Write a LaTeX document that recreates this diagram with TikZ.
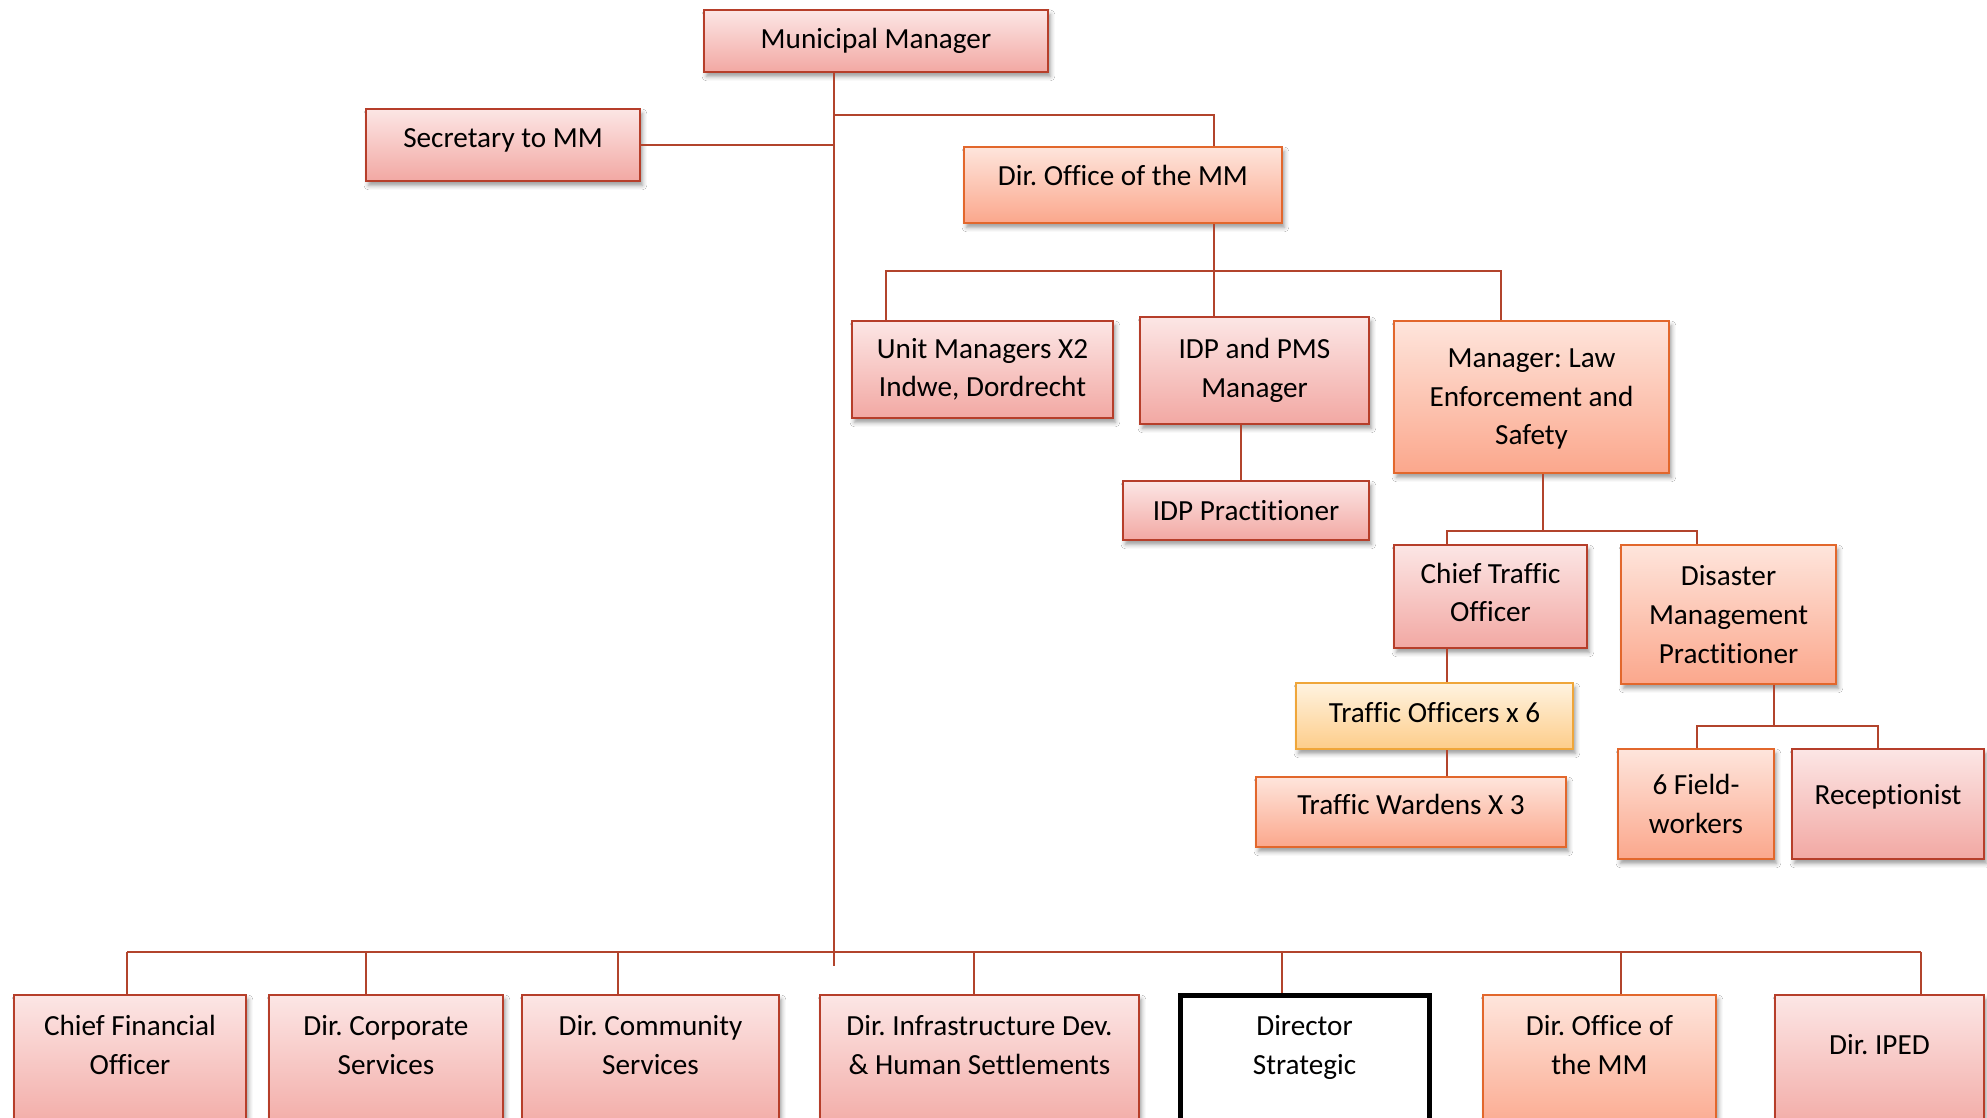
\documentclass[tikz,border=0pt]{standalone}
\usepackage{fontspec}
\setmainfont{Carlito}[Ligatures=NoCommon]
\frenchspacing
\usetikzlibrary{fit,shadows.blur}

\definecolor{pinkTop}{HTML}{FCE6E5}
\definecolor{pinkBot}{HTML}{F2A8A3}
\definecolor{pinkLine}{HTML}{B63E2A}
\definecolor{orTop}{HTML}{FEE5DC}
\definecolor{orBot}{HTML}{FBA78C}
\definecolor{orLine}{HTML}{E2672C}
\definecolor{ylTop}{HTML}{FFF3E0}
\definecolor{ylBot}{HTML}{FDCD8A}
\definecolor{ylLine}{HTML}{EFA63A}
\definecolor{linkCol}{HTML}{B2442C}

\tikzset{
  orgbox/.style={rectangle, inner sep=0pt, line width=1.1pt,
    blur shadow={shadow xshift=1.2pt, shadow yshift=-2.2pt,
      shadow blur radius=2.2pt, shadow opacity=40}},
  pinkbox/.style={orgbox, draw=pinkLine, top color=pinkTop, bottom color=pinkBot},
  orangebox/.style={orgbox, draw=orLine, top color=orTop, bottom color=orBot},
  yellowbox/.style={orgbox, draw=ylLine, top color=ylTop, bottom color=ylBot},
  plainbox/.style={rectangle, inner sep=0pt, line width=2.5pt, draw=black, fill=white},
  boxtext/.style={align=center, inner sep=0pt, font=\fontsize{14.6}{19.3}\selectfont},
  link/.style={draw=linkCol, line width=1pt}
}

\begin{document}
\begin{tikzpicture}[x=0.5pt, y=-0.5pt]
\useasboundingbox[fill=white] (0,0) rectangle (1987,1118);

% reference lines of the chart
\coordinate (spine) at (834,0);
\coordinate (topbar) at (0,115);
\coordinate (j1) at (1214,0);
\coordinate (lawx) at (1543,0);
\coordinate (lawbar) at (0,531);
\coordinate (trafx) at (1447,0);
\coordinate (disx) at (1774,0);
\coordinate (disbar) at (0,726);
\coordinate (spineEnd) at (834,966);
\coordinate (row) at (0,1045);

% upper part: boxes
\node[pinkbox, fit={(704,10) (1048,72)}] (mm) {};
\node[pinkbox, fit={(366,109) (640,181)}] (sec) {};
\node[orangebox, fit={(964,147) (1282,223)}] (dom) {};
\node[pinkbox, fit={(852,321) (1113,418)}] (unit) {};
\node[pinkbox, fit={(1140,317) (1369,424)}] (idp) {};
\node[orangebox, fit={(1394,321) (1669,473)}] (law) {};
\node[pinkbox, fit={(1123,481) (1369,540)}] (idpp) {};
\node[pinkbox, fit={(1394,545) (1587,648)}] (cto) {};
\node[orangebox, fit={(1621,545) (1836,684)}] (dmp) {};
\node[yellowbox, fit={(1296,683) (1573,749)}] (tofc) {};
\node[orangebox, fit={(1256,777) (1566,847)}] (tw) {};
\node[orangebox, fit={(1618,749) (1774,859)}] (fw) {};
\node[pinkbox, fit={(1792,749) (1984,859)}] (rec) {};

% upper part: texts
\node[boxtext] (mm-t) at (mm.center) {Municipal Manager};
\node[boxtext, yshift=2.5pt] (sec-t) at (sec.center) {Secretary to MM};
\node[boxtext, yshift=5pt] (dom-t) at (dom.center) {Dir. Office of the MM};
\node[boxtext] (unit-t) at (unit.center) {Unit Managers X2\\Indwe, Dordrecht};
\node[boxtext] (idp-t) at (idp.center) {IDP and PMS\\Manager};
\node[boxtext, yshift=-1pt] (law-t) at (law.center) {Manager: Law\\Enforcement and\\Safety};
\node[boxtext] (idpp-t) at (idpp.center) {IDP Pract\kern0pt it\kern0pt ioner};
\node[boxtext, yshift=2pt] (cto-t) at (cto.center) {Chief Traffic\\Officer};
\node[boxtext] (dmp-t) at (dmp.center) {Disaster\\Management\\Pract\kern0pt it\kern0pt ioner};
\node[boxtext, yshift=1.5pt] (tofc-t) at (tofc.center) {Traffic Officers x 6};
\node[boxtext, yshift=4pt] (tw-t) at (tw.center) {Traffic Wardens X 3};
\node[boxtext] (fw-t) at (fw.center) {6 Field-\\workers};
\node[boxtext] (rec-t) at (rec.center |- 0,797) {Receptionist};

% lower row of directors
\node[pinkbox, fit={(14,995) (246,1135)}] (cfo) {};
\node[pinkbox, fit={(269,995) (503,1135)}] (corp) {};
\node[pinkbox, fit={(522,995) (779,1135)}] (comm) {};
\node[pinkbox, fit={(820,995) (1139,1135)}] (infra) {};
\node[plainbox, fit={(1180,995) (1429,1135)}] (strat) {};
\node[orangebox, fit={(1483,995) (1716,1135)}] (dom2) {};
\node[pinkbox, fit={(1775,995) (1984,1135)}] (iped) {};

\node[boxtext] (cfo-t) at (cfo.north |- row) {Chief Financial\\Officer};
\node[boxtext] (corp-t) at (corp.north |- row) {Dir. Corporate\\Services};
\node[boxtext] (comm-t) at (comm.north |- row) {Dir. Community\\Services};
\node[boxtext] (infra-t) at (infra.north |- row) {Dir. Infrastructure Dev.\\\& Human Settlements};
\node[boxtext, yshift=-1.2pt] (strat-t) at (strat.north |- row) {Director\\Strategic};
\node[boxtext] (dom2-t) at (dom2.north |- row) {Dir. Office of\\the MM};
\node[boxtext] (iped-t) at (iped.north |- row) {Dir. IPED};

% connectors
\draw[link] (mm.south -| spine) -- (spineEnd);
\draw[link] (sec.east) -- (sec.east -| spine);
\draw[link] (spine |- topbar) -- (j1 |- topbar) -- (dom.north -| j1);
\draw[link] (dom.south -| j1) -- (idp.north -| j1);
\draw[link] (unit.north -| 886,0) -- (886,271) -- (1501,271) -- (law.north -| 1501,0);
\draw[link] (idp.south -| 1241,0) -- (idpp.north -| 1241,0);
\draw[link] (law.south -| lawx) -- (lawx |- lawbar);
\draw[link] (cto.north -| trafx) -- (trafx |- lawbar) -- (1697,531) -- (dmp.north -| 1697,0);
\draw[link] (cto.south -| trafx) -- (tofc.north -| trafx);
\draw[link] (tofc.south -| trafx) -- (tw.north -| trafx);
\draw[link] (dmp.south -| disx) -- (disx |- disbar);
\draw[link] (fw.north -| 1697,0) -- (1697,726) -- (1878,726) -- (rec.north -| 1878,0);
\draw[link] (127,952) -- (1921,952);
\draw[link] (cfo.north -| 127,0) -- (127,952);
\draw[link] (corp.north -| 366,0) -- (366,952);
\draw[link] (comm.north -| 618,0) -- (618,952);
\draw[link] (infra.north -| 974,0) -- (974,952);
\draw[link] (strat.north -| 1282,0) -- (1282,952);
\draw[link] (dom2.north -| 1621,0) -- (1621,952);
\draw[link] (iped.north -| 1921,0) -- (1921,952);
\end{tikzpicture}
\end{document}
